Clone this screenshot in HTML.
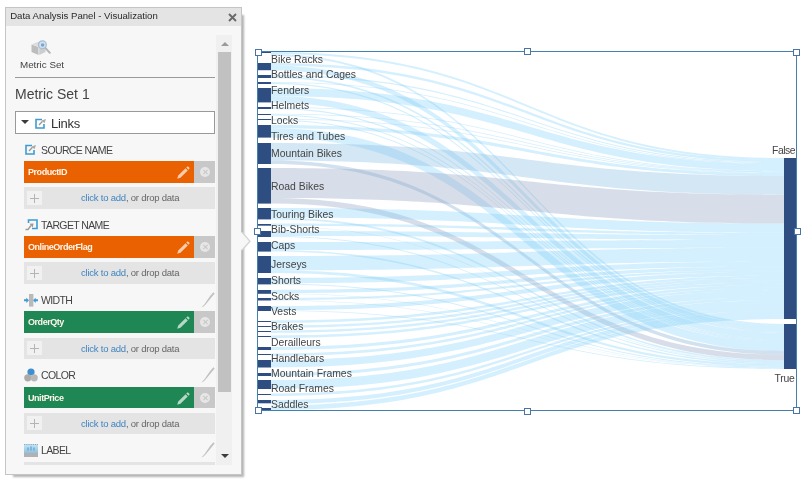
<!DOCTYPE html>
<html><head><meta charset="utf-8"><title>Data Analysis Panel - Visualization</title>
<style>
html,body{margin:0;padding:0;background:#fff;}
body{width:809px;height:485px;position:relative;overflow:hidden;font-family:"Liberation Sans",sans-serif;color:#444;}
#chart{position:absolute;left:0;top:0;}
#panel{position:absolute;left:5px;top:7px;width:235px;height:466px;background:#f7f7f7;border:1px solid #c5c5c5;box-sizing:content-box;box-shadow:5px 5px 2px -3px rgba(0,0,0,0.3);}
#pc{position:absolute;left:0;top:0;width:809px;height:485px;}
#pc *{position:absolute;box-sizing:border-box;}
#tt{font-size:9.6px;line-height:12px;white-space:nowrap;color:#2a2a2a;}
#ptr{position:absolute;left:241px;top:231.5px;}
.bar{left:24px;width:170px;}
.bt{left:4px;top:5px;font-size:9px;font-weight:bold;line-height:12px;color:#fff6ea;white-space:nowrap;letter-spacing:-0.45px;}
.pw{left:152px;top:5px;color:rgba(255,255,255,0.68);}
.del{left:194px;width:21px;background:#c8c8c8;}
.del i{left:6px;top:6px;width:10px;height:10px;border-radius:50%;background:#e6e6e6;}
.del i:before,.del i:after{content:"";position:absolute;left:4.5px;top:2px;width:1px;height:6px;background:#c8c8c8;transform:rotate(45deg);}
.del i:after{transform:rotate(-45deg);}
.add{left:24px;width:191px;background:#e4e4e4;}
.plus{left:3px;width:15px;height:14px;background:#f1f1f1;}
.plus:before{content:"";position:absolute;left:3px;top:6.8px;width:9px;height:1px;background:#b4b4b4;}
.plus:after{content:"";position:absolute;left:7px;top:2.8px;width:1px;height:9px;background:#b4b4b4;}
.at{left:57px;top:5px;font-size:9.5px;letter-spacing:-0.22px;line-height:12px;white-space:nowrap;color:#666;}
.at .lk{position:static !important;color:#3f84c0;}
.hico{line-height:0;}
.htx{left:41px;font-size:10.5px;letter-spacing:-0.62px;line-height:14px;white-space:nowrap;color:#444;}
.pg{left:201px;}
</style></head><body>
<svg id="chart" width="809" height="485" viewBox="0 0 809 485">
<path d="M271,52.00 C527.5,52.00 527.5,158.00 784,158.00 L784,159.81 C527.5,159.81 527.5,54.00 271,54.00Z" fill="rgba(120,205,250,0.32)"/>
<path d="M271,54.00 C527.5,54.00 527.5,324.00 784,324.00 L784,325.86 C527.5,325.86 527.5,56.00 271,56.00Z" fill="rgba(120,205,250,0.32)"/>
<path d="M271,63.00 C527.5,63.00 527.5,159.81 784,159.81 L784,162.09 C527.5,162.09 527.5,65.52 271,65.52Z" fill="rgba(120,205,250,0.32)"/>
<path d="M271,65.52 C527.5,65.52 527.5,325.86 784,325.86 L784,330.20 C527.5,330.20 527.5,70.20 271,70.20Z" fill="rgba(120,205,250,0.32)"/>
<path d="M271,75.00 C527.5,75.00 527.5,162.09 784,162.09 L784,163.17 C527.5,163.17 527.5,76.20 271,76.20Z" fill="rgba(120,205,250,0.32)"/>
<path d="M271,76.20 C527.5,76.20 527.5,330.20 784,330.20 L784,331.87 C527.5,331.87 527.5,78.00 271,78.00Z" fill="rgba(120,205,250,0.32)"/>
<path d="M271,82.00 C527.5,82.00 527.5,163.17 784,163.17 L784,163.89 C527.5,163.89 527.5,82.80 271,82.80Z" fill="rgba(120,205,250,0.32)"/>
<path d="M271,82.80 C527.5,82.80 527.5,331.87 784,331.87 L784,332.98 C527.5,332.98 527.5,84.00 271,84.00Z" fill="rgba(120,205,250,0.32)"/>
<path d="M271,88.00 C527.5,88.00 527.5,163.89 784,163.89 L784,171.05 C527.5,171.05 527.5,95.92 271,95.92Z" fill="rgba(120,205,250,0.32)"/>
<path d="M271,95.92 C527.5,95.92 527.5,332.98 784,332.98 L784,339.00 C527.5,339.00 527.5,102.40 271,102.40Z" fill="rgba(120,205,250,0.32)"/>
<path d="M271,107.00 C527.5,107.00 527.5,171.05 784,171.05 L784,171.78 C527.5,171.78 527.5,107.80 271,107.80Z" fill="rgba(120,205,250,0.32)"/>
<path d="M271,107.80 C527.5,107.80 527.5,339.00 784,339.00 L784,340.11 C527.5,340.11 527.5,109.00 271,109.00Z" fill="rgba(120,205,250,0.32)"/>
<path d="M271,113.70 C527.5,113.70 527.5,171.78 784,171.78 L784,172.47 C527.5,172.47 527.5,114.46 271,114.46Z" fill="rgba(120,205,250,0.32)"/>
<path d="M271,114.46 C527.5,114.46 527.5,340.11 784,340.11 L784,341.17 C527.5,341.17 527.5,115.60 271,115.60Z" fill="rgba(120,205,250,0.32)"/>
<path d="M271,118.70 C527.5,118.70 527.5,172.47 784,172.47 L784,173.15 C527.5,173.15 527.5,119.46 271,119.46Z" fill="rgba(120,205,250,0.32)"/>
<path d="M271,119.46 C527.5,119.46 527.5,341.17 784,341.17 L784,342.23 C527.5,342.23 527.5,120.60 271,120.60Z" fill="rgba(120,205,250,0.32)"/>
<path d="M271,125.00 C527.5,125.00 527.5,173.15 784,173.15 L784,176.00 C527.5,176.00 527.5,128.15 271,128.15Z" fill="rgba(120,205,250,0.32)"/>
<path d="M271,128.15 C527.5,128.15 527.5,342.23 784,342.23 L784,351.00 C527.5,351.00 527.5,137.60 271,137.60Z" fill="rgba(120,205,250,0.32)"/>
<path d="M271,143.00 C527.5,143.00 527.5,176.00 784,176.00 L784,194.70 C527.5,194.70 527.5,160.53 271,160.53Z" fill="rgba(130,185,225,0.34)"/>
<path d="M271,160.53 C527.5,160.53 527.5,351.00 784,351.00 L784,354.70 C527.5,354.70 527.5,164.00 271,164.00Z" fill="rgba(140,180,215,0.40)"/>
<path d="M271,168.00 C527.5,168.00 527.5,194.70 784,194.70 L784,223.60 C527.5,223.60 527.5,197.91 271,197.91Z" fill="rgba(150,165,195,0.37)"/>
<path d="M271,197.91 C527.5,197.91 527.5,354.70 784,354.70 L784,360.20 C527.5,360.20 527.5,203.60 271,203.60Z" fill="rgba(150,165,195,0.37)"/>
<path d="M271,208.00 C527.5,208.00 527.5,223.60 784,223.60 L784,232.75 C527.5,232.75 527.5,217.58 271,217.58Z" fill="rgba(120,205,250,0.32)"/>
<path d="M271,217.58 C527.5,217.58 527.5,360.20 784,360.20 L784,361.75 C527.5,361.75 527.5,219.40 271,219.40Z" fill="rgba(120,205,250,0.32)"/>
<path d="M271,223.50 C527.5,223.50 527.5,232.75 784,232.75 L784,235.24 C527.5,235.24 527.5,226.10 271,226.10Z" fill="rgba(120,205,250,0.32)"/>
<path d="M271,226.10 C527.5,226.10 527.5,361.75 784,361.75 L784,362.17 C527.5,362.17 527.5,226.60 271,226.60Z" fill="rgba(120,205,250,0.32)"/>
<path d="M271,231.00 C527.5,231.00 527.5,235.24 784,235.24 L784,240.06 C527.5,240.06 527.5,236.04 271,236.04Z" fill="rgba(120,205,250,0.32)"/>
<path d="M271,236.04 C527.5,236.04 527.5,362.17 784,362.17 L784,362.98 C527.5,362.98 527.5,237.00 271,237.00Z" fill="rgba(120,205,250,0.32)"/>
<path d="M271,242.00 C527.5,242.00 527.5,240.06 784,240.06 L784,247.76 C527.5,247.76 527.5,250.06 271,250.06Z" fill="rgba(120,205,250,0.32)"/>
<path d="M271,250.06 C527.5,250.06 527.5,362.98 784,362.98 L784,364.29 C527.5,364.29 527.5,251.60 271,251.60Z" fill="rgba(120,205,250,0.32)"/>
<path d="M271,256.00 C527.5,256.00 527.5,247.76 784,247.76 L784,261.41 C527.5,261.41 527.5,270.28 271,270.28Z" fill="rgba(120,205,250,0.32)"/>
<path d="M271,270.28 C527.5,270.28 527.5,364.29 784,364.29 L784,366.60 C527.5,366.60 527.5,273.00 271,273.00Z" fill="rgba(120,205,250,0.32)"/>
<path d="M271,278.00 C527.5,278.00 527.5,261.41 784,261.41 L784,266.54 C527.5,266.54 527.5,283.38 271,283.38Z" fill="rgba(120,205,250,0.32)"/>
<path d="M271,283.38 C527.5,283.38 527.5,366.60 784,366.60 L784,367.47 C527.5,367.47 527.5,284.40 271,284.40Z" fill="rgba(120,205,250,0.32)"/>
<path d="M271,290.00 C527.5,290.00 527.5,266.54 784,266.54 L784,269.60 C527.5,269.60 527.5,293.19 271,293.19Z" fill="rgba(120,205,250,0.32)"/>
<path d="M271,293.19 C527.5,293.19 527.5,367.47 784,367.47 L784,367.98 C527.5,367.98 527.5,293.80 271,293.80Z" fill="rgba(120,205,250,0.32)"/>
<path d="M271,298.00 C527.5,298.00 527.5,269.60 784,269.60 L784,271.60 C527.5,271.60 527.5,300.10 271,300.10Z" fill="rgba(120,205,250,0.32)"/>
<path d="M271,300.10 C527.5,300.10 527.5,367.98 784,367.98 L784,368.32 C527.5,368.32 527.5,300.50 271,300.50Z" fill="rgba(120,205,250,0.32)"/>
<path d="M271,306.00 C527.5,306.00 527.5,271.60 784,271.60 L784,275.62 C527.5,275.62 527.5,310.20 271,310.20Z" fill="rgba(120,205,250,0.32)"/>
<path d="M271,310.20 C527.5,310.20 527.5,368.32 784,368.32 L784,369.00 C527.5,369.00 527.5,311.00 271,311.00Z" fill="rgba(120,205,250,0.32)"/>
<path d="M271,320.50 C527.5,320.50 527.5,275.62 784,275.62 L784,277.91 C527.5,277.91 527.5,322.90 271,322.90Z" fill="rgba(120,205,250,0.32)"/>
<path d="M271,325.50 C527.5,325.50 527.5,277.91 784,277.91 L784,280.20 C527.5,280.20 527.5,327.90 271,327.90Z" fill="rgba(120,205,250,0.32)"/>
<path d="M271,330.50 C527.5,330.50 527.5,280.20 784,280.20 L784,282.50 C527.5,282.50 527.5,332.90 271,332.90Z" fill="rgba(120,205,250,0.32)"/>
<path d="M271,335.50 C527.5,335.50 527.5,282.50 784,282.50 L784,284.79 C527.5,284.79 527.5,337.90 271,337.90Z" fill="rgba(120,205,250,0.32)"/>
<path d="M271,347.00 C527.5,347.00 527.5,284.79 784,284.79 L784,287.66 C527.5,287.66 527.5,350.00 271,350.00Z" fill="rgba(120,205,250,0.32)"/>
<path d="M271,353.50 C527.5,353.50 527.5,287.66 784,287.66 L784,289.95 C527.5,289.95 527.5,355.90 271,355.90Z" fill="rgba(120,205,250,0.32)"/>
<path d="M271,360.00 C527.5,360.00 527.5,289.95 784,289.95 L784,297.12 C527.5,297.12 527.5,367.50 271,367.50Z" fill="rgba(120,205,250,0.32)"/>
<path d="M271,373.00 C527.5,373.00 527.5,297.12 784,297.12 L784,299.98 C527.5,299.98 527.5,376.00 271,376.00Z" fill="rgba(120,205,250,0.32)"/>
<path d="M271,380.00 C527.5,380.00 527.5,299.98 784,299.98 L784,308.58 C527.5,308.58 527.5,389.00 271,389.00Z" fill="rgba(120,205,250,0.32)"/>
<path d="M271,393.50 C527.5,393.50 527.5,308.58 784,308.58 L784,310.88 C527.5,310.88 527.5,395.90 271,395.90Z" fill="rgba(120,205,250,0.32)"/>
<path d="M271,400.00 C527.5,400.00 527.5,310.88 784,310.88 L784,314.70 C527.5,314.70 527.5,404.00 271,404.00Z" fill="rgba(120,205,250,0.32)"/>
<path d="M271,405.50 C527.5,405.50 527.5,314.70 784,314.70 L784,319.00 C527.5,319.00 527.5,410.00 271,410.00Z" fill="rgba(120,205,250,0.32)"/>
<rect x="258" y="52" width="13" height="1" fill="#2e4d80"/>
<rect x="258" y="63" width="13" height="7.200000000000003" fill="#2e4d80"/>
<rect x="258" y="75" width="13" height="3" fill="#2e4d80"/>
<rect x="258" y="82" width="13" height="2" fill="#2e4d80"/>
<rect x="258" y="88" width="13" height="14.400000000000006" fill="#2e4d80"/>
<rect x="258" y="107" width="13" height="2" fill="#2e4d80"/>
<rect x="258" y="114" width="13" height="1" fill="#2e4d80"/>
<rect x="258" y="119" width="13" height="1" fill="#2e4d80"/>
<rect x="258" y="125" width="13" height="12.599999999999994" fill="#2e4d80"/>
<rect x="258" y="143" width="13" height="21" fill="#2e4d80"/>
<rect x="258" y="168" width="13" height="35.599999999999994" fill="#2e4d80"/>
<rect x="258" y="208" width="13" height="11.400000000000006" fill="#2e4d80"/>
<rect x="258" y="224" width="13" height="1.6999999999999886" fill="#2e4d80"/>
<rect x="258" y="231" width="13" height="6" fill="#2e4d80"/>
<rect x="258" y="242" width="13" height="9.599999999999994" fill="#2e4d80"/>
<rect x="258" y="256" width="13" height="17" fill="#2e4d80"/>
<rect x="258" y="278" width="13" height="6.399999999999977" fill="#2e4d80"/>
<rect x="258" y="290" width="13" height="3.8000000000000114" fill="#2e4d80"/>
<rect x="258" y="298" width="13" height="2.5" fill="#2e4d80"/>
<rect x="258" y="306" width="13" height="5" fill="#2e4d80"/>
<rect x="258" y="321" width="13" height="1" fill="#2e4d80"/>
<rect x="258" y="326" width="13" height="1" fill="#2e4d80"/>
<rect x="258" y="331" width="13" height="1" fill="#2e4d80"/>
<rect x="258" y="336" width="13" height="1" fill="#2e4d80"/>
<rect x="258" y="347" width="13" height="3" fill="#2e4d80"/>
<rect x="258" y="354" width="13" height="1" fill="#2e4d80"/>
<rect x="258" y="360" width="13" height="7.5" fill="#2e4d80"/>
<rect x="258" y="373" width="13" height="3" fill="#2e4d80"/>
<rect x="258" y="380" width="13" height="9" fill="#2e4d80"/>
<rect x="258" y="394" width="13" height="1" fill="#2e4d80"/>
<rect x="258" y="400" width="13" height="3.3000000000000114" fill="#2e4d80"/>
<rect x="258" y="408" width="13" height="2" fill="#2e4d80"/>
<rect x="784" y="158" width="13" height="161" fill="#2e4d80"/>
<rect x="784" y="324" width="13" height="45" fill="#2e4d80"/>
<g font-family="'Liberation Sans',sans-serif" font-size="10.4" fill="#444">
<text x="271" y="62.7">Bike Racks</text>
<text x="271" y="77.7">Bottles and Cages</text>
<text x="271" y="93.7">Fenders</text>
<text x="271" y="108.7">Helmets</text>
<text x="271" y="123.7">Locks</text>
<text x="271" y="139.7">Tires and Tubes</text>
<text x="271" y="156.7">Mountain Bikes</text>
<text x="271" y="189.7">Road Bikes</text>
<text x="271" y="217.7">Touring Bikes</text>
<text x="271" y="232.7">Bib-Shorts</text>
<text x="271" y="248.7">Caps</text>
<text x="271" y="267.7">Jerseys</text>
<text x="271" y="283.7">Shorts</text>
<text x="271" y="299.7">Socks</text>
<text x="271" y="314.7">Vests</text>
<text x="271" y="329.7">Brakes</text>
<text x="271" y="345.7">Derailleurs</text>
<text x="271" y="361.7">Handlebars</text>
<text x="271" y="376.7">Mountain Frames</text>
<text x="271" y="391.7">Road Frames</text>
<text x="271" y="407.7">Saddles</text>
<text x="795.2" y="153.8" text-anchor="end" letter-spacing="-0.45">False</text>
<text x="794.6" y="381.8" text-anchor="end" letter-spacing="-0.25">True</text>
</g>
<rect x="257.5" y="51.5" width="539" height="359" fill="none" stroke="#4380ad" stroke-width="1"/>
<rect x="255.5" y="49.5" width="6" height="6" fill="#fff" stroke="#4c73a6" stroke-width="1"/>
<rect x="524.5" y="48.5" width="6" height="6" fill="#fff" stroke="#4c73a6" stroke-width="1"/>
<rect x="793.5" y="49.5" width="6" height="6" fill="#fff" stroke="#4c73a6" stroke-width="1"/>
<rect x="254.5" y="228.5" width="6" height="6" fill="#fff" stroke="#4c73a6" stroke-width="1"/>
<rect x="794.5" y="228.5" width="6" height="6" fill="#fff" stroke="#4c73a6" stroke-width="1"/>
<rect x="255.5" y="407.5" width="6" height="6" fill="#fff" stroke="#4c73a6" stroke-width="1"/>
<rect x="524.5" y="408.5" width="6" height="6" fill="#fff" stroke="#4c73a6" stroke-width="1"/>
<rect x="793.5" y="407.5" width="6" height="6" fill="#fff" stroke="#4c73a6" stroke-width="1"/>
</svg>
<div id="panel"></div>
<div id="pc">
 <div style="left:6px;top:8px;width:235px;height:18px;background:#e4e4e4"></div>
 <div id="tt" style="left:10.2px;top:10px">Data Analysis Panel - Visualization</div>
 <svg style="left:228px;top:13px" width="9" height="9" viewBox="0 0 9 9"><path d="M1 1 L8 8 M8 1 L1 8" stroke="#6a6a6a" stroke-width="1.9"/></svg>
 <div style="left:31px;top:40px;line-height:0"><svg width="20" height="16" viewBox="0 0 20 16"><path d="M0.5 4.5 L7.5 7 V15 L0.5 12Z" fill="#bdbdbd"/><path d="M8.2 7 L14.5 4.5 V12 L8.2 15Z" fill="#cdcdcd"/><path d="M0.5 4.2 L7.5 1.8 L14.5 4.2 L7.8 6.6Z" fill="#dcdcdc"/><circle cx="11.4" cy="4.7" r="3.9" fill="#d3e3f3" stroke="#a9bdd3" stroke-width="1.3"/><circle cx="11.6" cy="5" r="1.8" fill="#79a5d3"/><path d="M14.6 8.2 L18.8 12.8" stroke="#b4b4b4" stroke-width="2" stroke-linecap="round"/></svg></div>
 <div style="left:20px;top:59px;font-size:9.8px;line-height:12px;white-space:nowrap;color:#444">Metric Set</div>
 <div style="left:15px;top:77px;width:200px;height:1px;background:#9a9a9a"></div>
 <div style="left:15px;top:85px;font-size:14px;line-height:18px;white-space:nowrap;color:#444">Metric Set 1</div>
 <div style="left:15px;top:111px;width:200px;height:23px;background:#fff;border:1px solid #999"></div>
 <div style="left:20.5px;top:120px;width:0;height:0;border-left:4px solid transparent;border-right:4px solid transparent;border-top:4.2px solid #3c3c3c"></div>
 <div style="left:35px;top:118px;line-height:0"><svg width="13" height="11" viewBox="0 0 13 11"><path d="M7 1.5H1V10H9V6" fill="none" stroke="#3f9bd1" stroke-width="1.6"/><path d="M4 7 L7.5 3.2" stroke="#999" stroke-width="1.3"/><path d="M6.5 2.5 L11 1 L9.5 5.2Z" fill="#aaa"/></svg></div>
 <div style="left:51px;top:116.3px;font-size:13px;letter-spacing:-0.25px;line-height:16px;white-space:nowrap;color:#333">Links</div>
 <div class="hico" style="left:25px;top:144px"><svg width="13" height="11" viewBox="0 0 13 11"><path d="M7 1.5H1V10H9V6" fill="none" stroke="#3f9bd1" stroke-width="1.6"/><path d="M4 7 L7.5 3.2" stroke="#999" stroke-width="1.3"/><path d="M6.5 2.5 L11 1 L9.5 5.2Z" fill="#aaa"/></svg></div><div class="htx" style="top:143px">SOURCE NAME</div>
<div class="bar" style="top:161px;height:22px;background:#e96100"><span class="bt">ProductID</span><svg class="pw" width="14" height="14" viewBox="0 0 14 14"><path d="M1.2 12.8 L2.2 9.6 L9.6 2.2 L11.8 4.4 L4.4 11.8 Z M10.3 1.5 L11.2 0.6 Q11.8 0.2 12.4 0.8 L13.2 1.6 Q13.8 2.2 13.4 2.8 L12.5 3.7 Z" fill="currentColor"/></svg></div>
<div class="del" style="top:161px;height:22px"><i></i></div>
<div class="add" style="top:187px;height:22px"><div class="plus" style="top:4px"></div><span class="at"><span class="lk">click to add</span>, or drop data</span></div>
<div class="hico" style="left:25px;top:219px"><svg width="13" height="12" viewBox="0 0 13 12"><path d="M3.5 4V1H12V9.5H7" fill="none" stroke="#3f9bd1" stroke-width="1.6"/><path d="M0.5 10.5 H3 L6 6.5" fill="none" stroke="#999" stroke-width="1.3"/><path d="M4.5 4.8 L8.5 4.5 L7.8 8.5Z" fill="#999"/></svg></div><div class="htx" style="top:218px">TARGET NAME</div>
<div class="bar" style="top:236px;height:22px;background:#e96100"><span class="bt">OnlineOrderFlag</span><svg class="pw" width="14" height="14" viewBox="0 0 14 14"><path d="M1.2 12.8 L2.2 9.6 L9.6 2.2 L11.8 4.4 L4.4 11.8 Z M10.3 1.5 L11.2 0.6 Q11.8 0.2 12.4 0.8 L13.2 1.6 Q13.8 2.2 13.4 2.8 L12.5 3.7 Z" fill="currentColor"/></svg></div>
<div class="del" style="top:236px;height:22px"><i></i></div>
<div class="add" style="top:262px;height:22px"><div class="plus" style="top:4px"></div><span class="at"><span class="lk">click to add</span>, or drop data</span></div>
<div class="hico" style="left:24px;top:294px"><svg width="14" height="13" viewBox="0 0 14 13"><rect x="5" y="0" width="4.4" height="12.6" fill="#b9b9b9"/><path d="M0 5.3 H2.3 V3.7 L5 6.3 L2.3 8.9 V7.3 H0Z M14 5.3 H11.7 V3.7 L9 6.3 L11.7 8.9 V7.3 H14Z" fill="#3f9bd1"/></svg></div><div class="htx" style="top:293px">WIDTH</div>
<svg class="pg" style="top:292px" width="14" height="16" viewBox="0 0 14 16"><path d="M0.4 15.6 Q2.6 14.8 4.6 12.4 L13.7 1.6 L12.4 0.3 Q8.5 4.2 6 8.6 Q3.8 12.6 0.4 15.6Z" fill="#c2c2c2"/></svg>
<div class="bar" style="top:311px;height:22px;background:#1f8754"><span class="bt">OrderQty</span><svg class="pw" width="14" height="14" viewBox="0 0 14 14"><path d="M1.2 12.8 L2.2 9.6 L9.6 2.2 L11.8 4.4 L4.4 11.8 Z M10.3 1.5 L11.2 0.6 Q11.8 0.2 12.4 0.8 L13.2 1.6 Q13.8 2.2 13.4 2.8 L12.5 3.7 Z" fill="currentColor"/></svg></div>
<div class="del" style="top:311px;height:22px"><i></i></div>
<div class="add" style="top:338px;height:21px"><div class="plus" style="top:3px"></div><span class="at"><span class="lk">click to add</span>, or drop data</span></div>
<div class="hico" style="left:24px;top:368px"><svg width="14" height="14" viewBox="0 0 14 14"><circle cx="7" cy="4" r="3.6" fill="#3f8fd0"/><circle cx="3.8" cy="9.8" r="3.6" fill="#aaa"/><circle cx="10.2" cy="9.8" r="3.6" fill="#b8b8b8"/></svg></div><div class="htx" style="top:368px">COLOR</div>
<svg class="pg" style="top:367px" width="14" height="16" viewBox="0 0 14 16"><path d="M0.4 15.6 Q2.6 14.8 4.6 12.4 L13.7 1.6 L12.4 0.3 Q8.5 4.2 6 8.6 Q3.8 12.6 0.4 15.6Z" fill="#c2c2c2"/></svg>
<div class="bar" style="top:387px;height:21px;background:#1f8754"><span class="bt">UnitPrice</span><svg class="pw" width="14" height="14" viewBox="0 0 14 14"><path d="M1.2 12.8 L2.2 9.6 L9.6 2.2 L11.8 4.4 L4.4 11.8 Z M10.3 1.5 L11.2 0.6 Q11.8 0.2 12.4 0.8 L13.2 1.6 Q13.8 2.2 13.4 2.8 L12.5 3.7 Z" fill="currentColor"/></svg></div>
<div class="del" style="top:387px;height:21px"><i></i></div>
<div class="add" style="top:413px;height:21px"><div class="plus" style="top:3px"></div><span class="at"><span class="lk">click to add</span>, or drop data</span></div>
<div class="hico" style="left:24px;top:444px"><svg width="14" height="13" viewBox="0 0 14 13"><defs><linearGradient id="lg" x1="0" y1="0" x2="0" y2="1"><stop offset="0" stop-color="#c4e6f7"/><stop offset="1" stop-color="#8fc1e0"/></linearGradient></defs><rect x="0" y="0" width="14" height="13" fill="#b1b1b1"/><rect x="0" y="0" width="14" height="9" fill="url(#lg)"/><path d="M0 0.4 H14" stroke="#7f8f9f" stroke-width="0.8" stroke-dasharray="1.2 1"/><path d="M3 3.5h2v3h-2z M6 2.5h2v4h-2z M9 3.5h2v3h-2z" fill="#6da6d0" opacity="0.7"/></svg></div><div class="htx" style="top:443px">LABEL</div>
<svg class="pg" style="top:442px" width="14" height="16" viewBox="0 0 14 16"><path d="M0.4 15.6 Q2.6 14.8 4.6 12.4 L13.7 1.6 L12.4 0.3 Q8.5 4.2 6 8.6 Q3.8 12.6 0.4 15.6Z" fill="#c2c2c2"/></svg>
 <div style="left:24px;top:462px;width:191px;height:3px;background:#e4e4e4"></div>
 <div style="left:216px;top:35px;width:16px;height:430px;background:#f0f0f0"></div>
 <div style="left:218px;top:52px;width:13px;height:340px;background:#c1c1c1"></div>
 <div style="left:220.5px;top:41.8px;width:0;height:0;border-left:4px solid transparent;border-right:4px solid transparent;border-bottom:4.4px solid #9a9a9a"></div>
 <div style="left:220.5px;top:453.8px;width:0;height:0;border-left:4px solid transparent;border-right:4px solid transparent;border-top:4.4px solid #3c3c3c"></div>
</div>
<svg id="ptr" width="11" height="20" viewBox="0 0 11 20"><path d="M0 0.6 L1.2 0.6 L9 9.2 L1.2 17.8 L0 17.8Z" fill="#f7f7f7"/><path d="M1.2 0.4 L9 9.2 L1.2 18" fill="none" stroke="#d4d4d4" stroke-width="1.3"/></svg>
</body></html>
